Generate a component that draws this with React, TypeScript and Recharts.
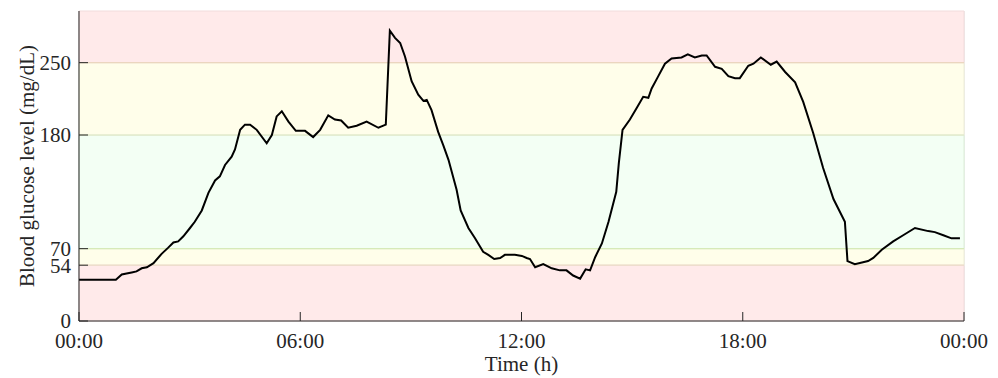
import {
  CartesianGrid,
  Line,
  LineChart,
  ReferenceArea,
  ReferenceLine,
  XAxis,
  YAxis,
} from 'recharts';

/* ------------------------------------------------------------------ */
/*  Data                                                              */
/* ------------------------------------------------------------------ */

const hours = [
  0, 1.0, 1.16, 1.29, 1.43, 1.56, 1.7, 1.84, 2.02, 2.24, 2.42, 2.56, 2.69, 2.83, 3.01, 3.14, 3.33,
  3.51, 3.69, 3.82, 3.96, 4.14, 4.23, 4.37, 4.5, 4.64, 4.82, 5.09, 5.23, 5.36, 5.5, 5.68, 5.88,
  6.13, 6.35, 6.54, 6.76, 6.94, 7.11, 7.3, 7.53, 7.8, 8.12, 8.32, 8.43, 8.57, 8.71, 8.84, 9.02,
  9.2, 9.34, 9.43, 9.56, 9.74, 9.88, 10.02, 10.24, 10.35, 10.56, 10.74, 10.96, 11.1, 11.26, 11.42,
  11.55, 11.82, 12.01, 12.14, 12.23, 12.37, 12.59, 12.82, 13.04, 13.22, 13.4, 13.59, 13.74, 13.86,
  14.0, 14.18, 14.36, 14.57, 14.64, 14.74, 14.94, 15.12, 15.3, 15.44, 15.53, 15.71, 15.89, 16.07,
  16.34, 16.51, 16.7, 16.89, 17.02, 17.25, 17.43, 17.61, 17.79, 17.92, 18.15, 18.29, 18.49, 18.76,
  18.92, 19.15, 19.42, 19.64, 19.91, 20.18, 20.46, 20.77, 20.84, 21.04, 21.4, 21.54, 21.77, 22.08,
  22.35, 22.67, 23.03, 23.21, 23.44, 23.66, 23.89,
];

const glucose = [
  40, 40, 45, 46, 47, 48, 51, 52, 56, 65, 71, 76, 77, 82, 90, 96, 107,
  124, 136, 140, 151, 159, 166, 185, 190, 190, 185, 172, 180, 198, 203, 193, 184,
  184, 178, 185, 199, 195, 194, 187, 189, 193, 187, 190, 281, 274, 269, 256, 232,
  219, 213, 214, 204, 183, 170, 156, 127, 107, 90, 80, 67, 64, 60, 61,
  64, 64, 63, 61, 60, 52, 55, 51, 49, 49, 44, 41, 50, 49,
  62, 75, 96, 125, 153, 185, 195, 206, 217, 216, 225, 237, 249, 254,
  255, 258, 255, 257, 257, 246, 244, 237, 235, 235, 247, 249, 255, 248,
  251, 241, 231, 212, 182, 148, 118, 96, 58, 55, 58, 61, 69, 77,
  83, 90, 87, 86, 83, 80, 80,
];

const xTicks = [0, 6, 12, 18, 24];
const yTicks = [0, 54, 70, 180, 250];
const yMax = 300;

// glucose ranges: [from, to]
const ranges: [number, number][] = [
  [0, 54],
  [54, 70],
  [70, 180],
  [180, 250],
  [250, 300],
];

const chartData = hours.map((t, i) => ({ t, value: glucose[i] }));

/* ------------------------------------------------------------------ */
/*  Styles                                                            */
/* ------------------------------------------------------------------ */

const FONT = '"Liberation Serif", "Times New Roman", serif';
const INK = '#262626';
const RANGE_FILLS = ['#ffeaea', '#fffeea', '#f3fff4', '#fffeea', '#ffeaea'];
const RANGE_EDGES = ['#f2dcdc', '#eeeed8', '#dcefd8', '#eeeed8', '#f2dcdc'];
const LIMIT_COLORS: Record<number, string> = {
  54: '#ecd9c8',
  70: '#d6eab8',
  180: '#dbe8c6',
  250: '#ebd6bf',
};

const tickStyle = { fill: INK, fontSize: 21, fontFamily: FONT };

function fmtHour(h: number) {
  return `${String(h % 24).padStart(2, '0')}:00`;
}

export default function App() {
  return (
    <div style={{ position: 'absolute', left: 0, top: 0, width: 998, height: 378, background: '#fff' }}>
      <LineChart
        width={998}
        height={378}
        data={chartData}
        margin={{ top: 11, right: 34, bottom: 0, left: 0 }}
      >
        {ranges.map(([lo, hi], i) => (
          <ReferenceArea
            key={`r-${lo}`}
            y1={lo}
            y2={hi}
            fill={RANGE_FILLS[i]}
            fillOpacity={1}
            stroke={RANGE_EDGES[i]}
            strokeWidth={1}
          />
        ))}
        <CartesianGrid horizontal={false} stroke="#dadada" strokeWidth={1} />
        {yTicks
          .filter((v) => LIMIT_COLORS[v])
          .map((v) => (
            <ReferenceLine key={`l-${v}`} y={v} stroke={LIMIT_COLORS[v]} strokeWidth={1.2} />
          ))}
        <XAxis
          dataKey="t"
          type="number"
          domain={[0, 24]}
          ticks={xTicks}
          interval={0}
          tickFormatter={fmtHour}
          tick={tickStyle}
          tickSize={-9}
          tickMargin={21}
          height={57}
          axisLine={{ stroke: INK, strokeWidth: 1 }}
          tickLine={{ stroke: INK, strokeWidth: 1 }}
          label={{
            value: 'Time (h)',
            position: 'insideBottom',
            offset: 7,
            fill: INK,
            fontSize: 21,
            fontFamily: FONT,
          }}
        />
        <YAxis
          type="number"
          domain={[0, yMax]}
          ticks={yTicks}
          interval={0}
          width={79}
          tick={tickStyle}
          tickSize={-9}
          tickMargin={17}
          axisLine={{ stroke: INK, strokeWidth: 1 }}
          tickLine={{ stroke: INK, strokeWidth: 1 }}
          label={{
            value: 'Blood glucose level (mg/dL)',
            angle: -90,
            position: 'insideLeft',
            offset: 27,
            fill: INK,
            fontSize: 21,
            fontFamily: FONT,
            style: { textAnchor: 'middle' },
          }}
        />
        <Line
          type="linear"
          dataKey="value"
          stroke="#000"
          strokeWidth={2}
          dot={false}
          activeDot={false}
          isAnimationActive={false}
        />
      </LineChart>
    </div>
  );
}
